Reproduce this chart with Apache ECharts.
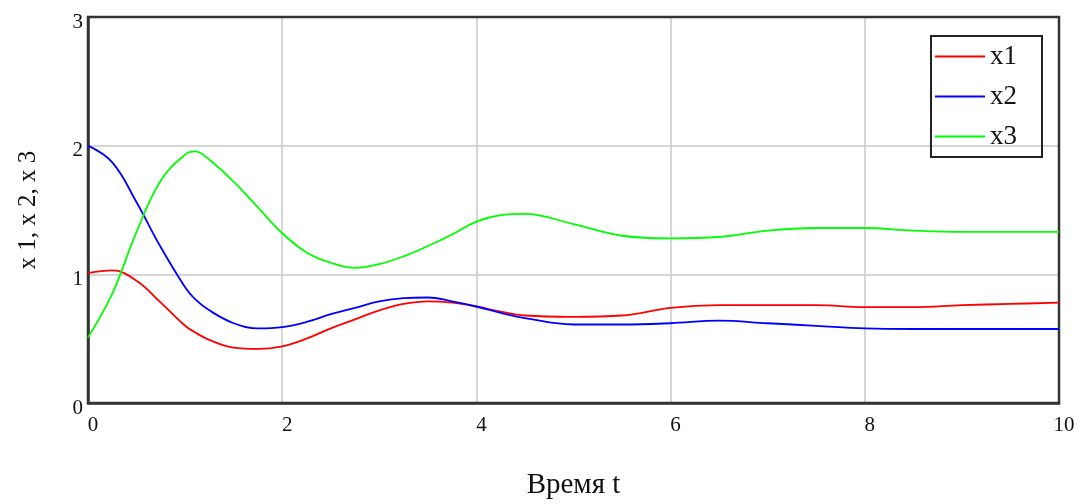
<!DOCTYPE html>
<html>
<head>
<meta charset="utf-8">
<script src="https://cdn.jsdelivr.net/npm/echarts@6/dist/echarts.min.js"></script>
<style>html,body{margin:0;padding:0;background:#fff}#c{width:1082px;height:504px}</style>
</head>
<body>
<div id="c"></div>
<script>
const seriesNames = ['x1', 'x2', 'x3'];
const tValues = [0, 0.25, 0.5, 0.75, 1.0, 1.1, 1.25, 1.5, 1.75, 2.0, 2.25, 2.5, 2.75, 3.0, 3.25, 3.5, 3.75, 4.0, 4.25, 4.5, 5.0, 5.5, 6.0, 6.5, 7.0, 7.5, 8.0, 8.5, 9.0, 9.5, 10];
const x1 = [1.01, 1.03, 0.95, 0.78, 0.60, 0.55, 0.49, 0.43, 0.42, 0.44, 0.50, 0.58, 0.65, 0.72, 0.77, 0.79, 0.78, 0.75, 0.71, 0.68, 0.67, 0.68, 0.74, 0.76, 0.76, 0.76, 0.745, 0.745, 0.76, 0.77, 0.78];
const x2 = [2.0, 1.87, 1.56, 1.21, 0.90, 0.81, 0.72, 0.62, 0.58, 0.59, 0.63, 0.69, 0.74, 0.79, 0.815, 0.82, 0.79, 0.75, 0.70, 0.66, 0.61, 0.61, 0.62, 0.64, 0.62, 0.60, 0.58, 0.575, 0.575, 0.575, 0.575];
const x3 = [0.51, 0.85, 1.33, 1.73, 1.93, 1.955, 1.89, 1.72, 1.52, 1.32, 1.17, 1.09, 1.05, 1.08, 1.14, 1.22, 1.31, 1.41, 1.46, 1.47, 1.39, 1.30, 1.28, 1.29, 1.34, 1.36, 1.36, 1.34, 1.33, 1.33, 1.33];
const colors = ['#ff0000', '#0000ff', '#00ff00'];
const xAxisTitle = 'Время t';
const yAxisTitle = 'x 1, x 2, x 3';

const font = 'Liberation Serif';
const valuesList = [x1, x2, x3];
const chart = echarts.init(document.getElementById('c'));
chart.setOption({
  animation: false,
  backgroundColor: '#fff',
  grid: { left: 88, right: 23, top: 17, bottom: 101, outerBoundsMode: 'none', containLabel: false, show: true, borderColor: '#333', borderWidth: 2.5, backgroundColor: 'transparent', z: 3 },
  legend: {
    orient: 'vertical', left: 931, top: 36,
    borderColor: '#222', borderWidth: 2,
    padding: [7, 25, 7, 4],
    icon: 'rect',
    itemWidth: 50, itemHeight: 2, itemGap: 13, itemTextGap: 12,
    textStyle: { fontFamily: font, fontSize: 27, color: '#111' },
    data: seriesNames
  },
  xAxis: {
    type: 'value', min: 0, max: 10, interval: 2,
    name: xAxisTitle, nameLocation: 'middle', nameGap: 68,
    nameTextStyle: { fontFamily: font, fontSize: 29, color: '#111' },
    axisLine: { show: true, onZero: false, lineStyle: { color: '#333', width: 2.5 } }, axisTick: { show: false },
    axisLabel: { fontFamily: font, fontSize: 21, color: '#111', margin: 12, padding: [0, 0, 0, 10] },
    splitLine: { show: true, showMinLine: false, showMaxLine: false, lineStyle: { color: '#c8c8c8', width: 1.5 } }
  },
  yAxis: {
    type: 'value', min: 0, max: 3, interval: 1,
    name: yAxisTitle, nameLocation: 'middle', nameGap: 47,
    nameTextStyle: { fontFamily: font, fontSize: 25, color: '#111' },
    axisLine: { show: true, onZero: false, lineStyle: { color: '#333', width: 2.5 } }, axisTick: { show: false },
    axisLabel: { fontFamily: font, fontSize: 21, color: '#111', margin: 5, verticalAlign: 'top', lineHeight: 10 },
    splitLine: { show: true, showMinLine: false, showMaxLine: false, lineStyle: { color: '#c8c8c8', width: 1.5 } }
  },
  series: seriesNames.map((n, i) => ({
    name: n, type: 'line', smooth: 0.4, showSymbol: false, symbol: 'none',
    color: colors[i],
    lineStyle: { color: colors[i], width: 1.8 },
    data: tValues.map((t, k) => [t, valuesList[i][k]])
  }))
});
</script>
</body>
</html>
